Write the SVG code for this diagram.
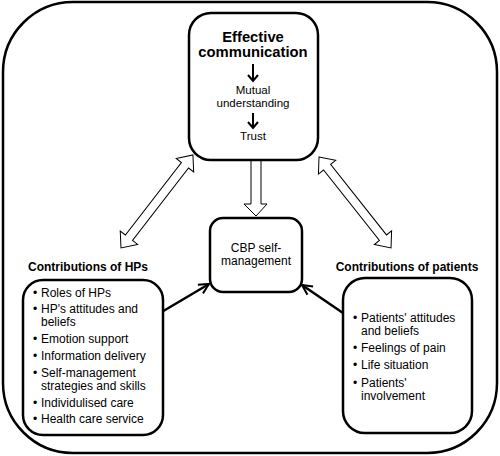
<svg xmlns="http://www.w3.org/2000/svg" width="500" height="456" viewBox="0 0 500 456">
<defs>
<style>
.box{fill:#fff;stroke:#000;stroke-width:2.5}
.t{font-family:"Liberation Sans",Arial,sans-serif;font-size:12px;fill:#000}
.b{font-weight:bold}
.big{font-size:14.8px}
.sm{font-size:11.5px}
.dbl{fill:#fff;stroke:#000;stroke-width:1}
.blk{stroke:#000;stroke-width:2.5;fill:none}
</style>
<marker id="ah" viewBox="0 0 10 10" refX="9" refY="5" markerWidth="5" markerHeight="5" orient="auto" markerUnits="strokeWidth">
<path d="M1,1 L9,5 L1,9" fill="none" stroke="#000" stroke-width="1.6"/>
</marker>
</defs>
<rect x="3" y="2" width="494" height="451" rx="70" ry="70" fill="#fff" stroke="#000" stroke-width="2.5"/>
<g id="connectors">
<polygon class="dbl" transform="translate(121,248) rotate(-52.3)" points="0,0 13,-11 13,-4.5 104.6,-4.5 104.6,-11 117.6,0 104.6,11 104.6,4.5 13,4.5 13,11"/>
<polygon class="dbl" transform="translate(319,157) rotate(51.6)" points="0,0 13,-11 13,-4.5 103,-4.5 103,-11 116,0 103,11 103,4.5 13,4.5 13,11"/>
<polygon class="dbl" points="251,160 261,160 261,204 267,204 256,216 244,204 251,204"/>
<line class="blk" x1="160" y1="313" x2="209" y2="284" marker-end="url(#ah)"/>
<line class="blk" x1="343" y1="313" x2="302" y2="285" marker-end="url(#ah)"/>
</g>
<g id="effective-communication">
<rect class="box" x="189" y="13" width="129" height="147" rx="22" ry="22"/>
<text class="t b big" x="253" y="42" text-anchor="middle">Effective</text>
<text class="t b big" x="253" y="57" text-anchor="middle">communication</text>
<path d="M253,64 V81 M248,75 L253,81 L258,75" fill="none" stroke="#000" stroke-width="2"/>
<text class="t sm" x="253" y="94" text-anchor="middle">Mutual</text>
<text class="t sm" x="253" y="107" text-anchor="middle">understanding</text>
<path d="M253,113 V128 M248,122 L253,128 L258,122" fill="none" stroke="#000" stroke-width="2"/>
<text class="t sm" x="253" y="140" text-anchor="middle">Trust</text>
</g>
<g id="cbp-self-management">
<rect class="box" x="210" y="218" width="92" height="74" rx="13" ry="13"/>
<text class="t" x="256" y="252" text-anchor="middle">CBP self-</text>
<text class="t" x="256" y="265" text-anchor="middle">management</text>
</g>
<g id="contributions-hps">
<text class="t b" x="88" y="271" text-anchor="middle">Contributions of HPs</text>
<rect class="box" x="23" y="280" width="140" height="155" rx="20" ry="20"/>
<g class="t">
<text x="33" y="297">•</text><text x="41" y="297">Roles of HPs</text>
<text x="33" y="313">•</text><text x="41" y="313">HP's attitudes and</text>
<text x="41" y="326">beliefs</text>
<text x="33" y="343">•</text><text x="41" y="343">Emotion support</text>
<text x="33" y="360">•</text><text x="41" y="360">Information delivery</text>
<text x="33" y="377">•</text><text x="41" y="377">Self-management</text>
<text x="41" y="390">strategies and skills</text>
<text x="33" y="407">•</text><text x="41" y="407">Individulised care</text>
<text x="33" y="423">•</text><text x="41" y="423">Health care service</text>
</g>
</g>
<g id="contributions-patients">
<text class="t b" x="407" y="271" text-anchor="middle">Contributions of patients</text>
<rect class="box" x="343" y="278" width="129" height="155" rx="22" ry="22"/>
<g class="t">
<text x="353" y="322">•</text><text x="361" y="322">Patients' attitudes</text>
<text x="361" y="335">and beliefs</text>
<text x="353" y="352">•</text><text x="361" y="352">Feelings of pain</text>
<text x="353" y="369">•</text><text x="361" y="369">Life situation</text>
<text x="353" y="387">•</text><text x="361" y="387">Patients'</text>
<text x="361" y="400">involvement</text>
</g>
</g>
</svg>
